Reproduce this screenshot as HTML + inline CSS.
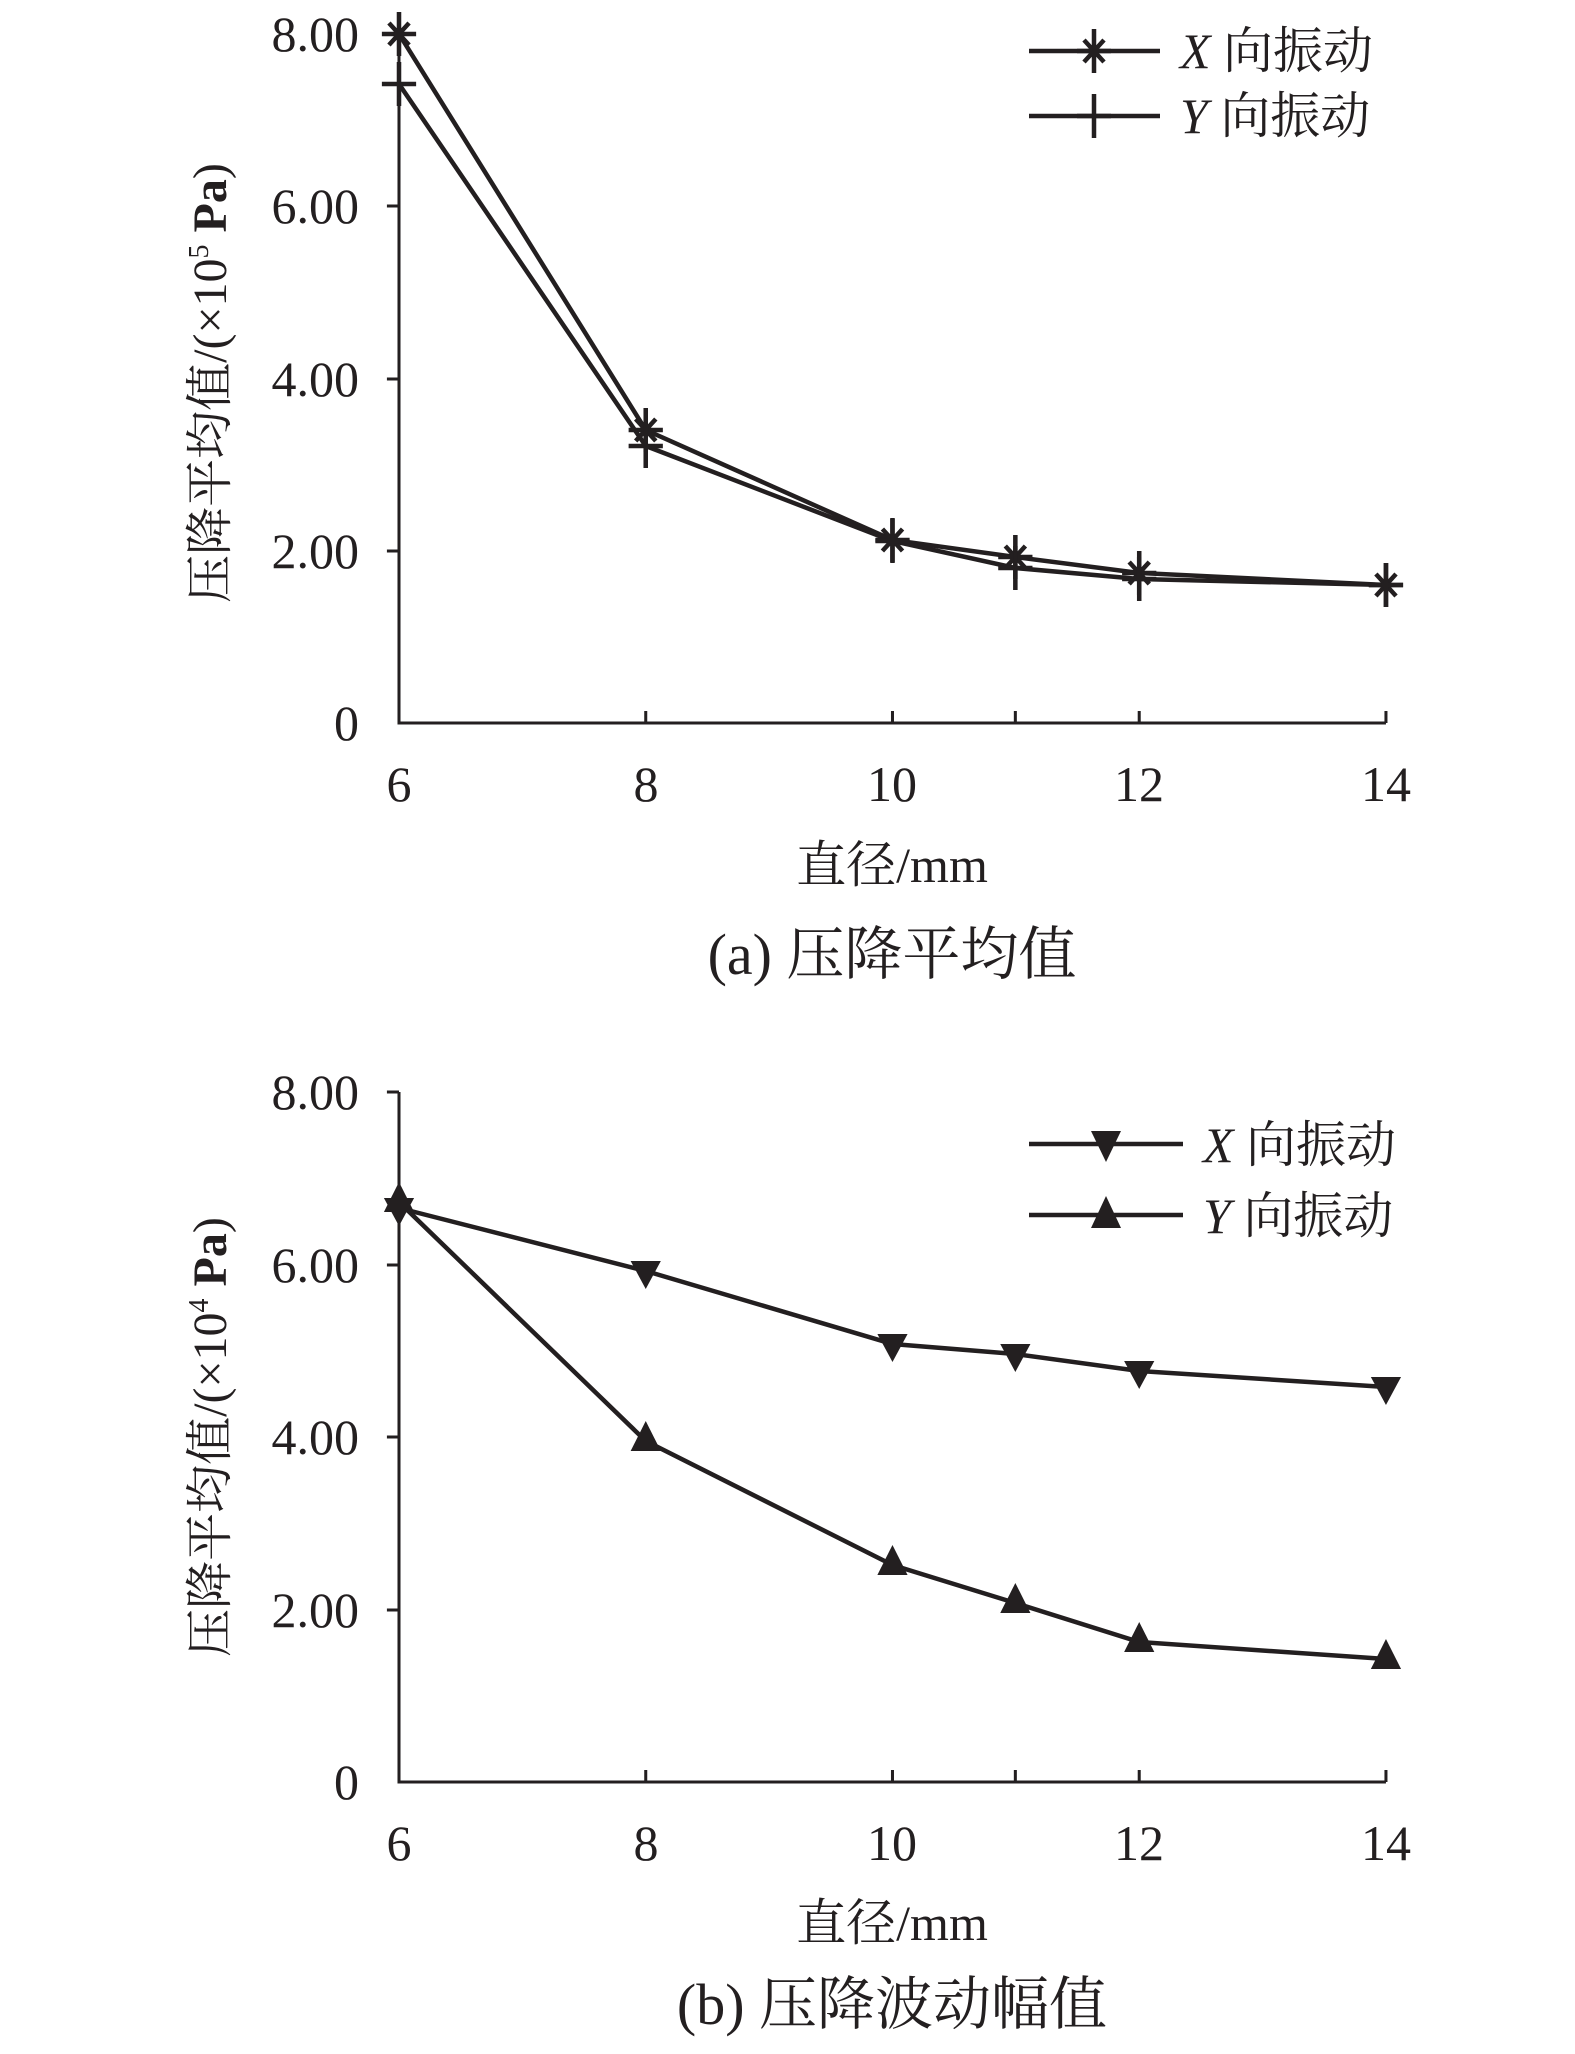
<!DOCTYPE html>
<html><head><meta charset="utf-8"><style>
html,body{margin:0;padding:0;background:#fff;}
svg{display:block;}
text{font-family:"Liberation Serif","Noto Serif CJK SC",serif;fill:#231f20;}
</style></head><body>
<svg width="1575" height="2054" viewBox="0 0 1575 2054" xmlns="http://www.w3.org/2000/svg">
<g transform="translate(399,0) scale(1.0071,1) translate(-399,0)">
<g stroke="#231f20" fill="none">
<path d="M399 34 V723 H1379" stroke-width="3"/>
<path d="M399 34 h-12 M399 206 h-12 M399 379 h-12 M399 551 h-12 M644 723 v-12 M889 723 v-12 M1011 723 v-12 M1134 723 v-12 M1379 723 v-12" stroke-width="3"/>
<polyline stroke-width="4.5" points="399,34 644,430 889,540 1011,557 1134,573 1379,585"/>
<polyline stroke-width="4.5" points="399,84 644,446 889,541 1011,568 1134,579 1379,585"/>
</g>
<g stroke="#231f20" stroke-width="4.5">
<path d="M382 34 H416 M399 12 V56 M389 23 L409 45 M389 45 L409 23"/>
<path d="M627 430 H661 M644 408 V452 M634 419 L654 441 M634 441 L654 419"/>
<path d="M872 540 H906 M889 518 V562 M879 529 L899 551 M879 551 L899 529"/>
<path d="M994 557 H1028 M1011 535 V579 M1001 546 L1021 568 M1001 568 L1021 546"/>
<path d="M1117 573 H1151 M1134 551 V595 M1124 562 L1144 584 M1124 584 L1144 562"/>
<path d="M1362 585 H1396 M1379 563 V607 M1369 574 L1389 596 M1369 596 L1389 574"/>
<path d="M382 84 H416 M399 62 V106"/>
<path d="M627 446 H661 M644 424 V468"/>
<path d="M872 541 H906 M889 519 V563"/>
<path d="M994 568 H1028 M1011 546 V590"/>
<path d="M1117 579 H1151 M1134 557 V601"/>
<path d="M1362 585 H1396 M1379 563 V607"/>
</g>
<g stroke="#231f20" fill="none">
<path d="M399 1092 V1782 H1379" stroke-width="3"/>
<path d="M399 1092 h-12 M399 1265 h-12 M399 1437 h-12 M399 1610 h-12 M644 1782 v-12 M889 1782 v-12 M1011 1782 v-12 M1134 1782 v-12 M1379 1782 v-12" stroke-width="3"/>
<polyline stroke-width="4.5" points="399,1208 644,1271 889,1344 1011,1354 1134,1371 1379,1387"/>
<polyline stroke-width="4.5" points="399,1202 644,1441 889,1565 1011,1603 1134,1642 1379,1659"/>
</g>
<g fill="#231f20">
<path d="M384 1198 h30 l-15 28z"/>
<path d="M629 1261 h30 l-15 28z"/>
<path d="M874 1334 h30 l-15 28z"/>
<path d="M996 1344 h30 l-15 28z"/>
<path d="M1119 1361 h30 l-15 28z"/>
<path d="M1364 1377 h30 l-15 28z"/>
<path d="M384 1212 h30 l-15 -30z"/>
<path d="M629 1451 h30 l-15 -30z"/>
<path d="M874 1575 h30 l-15 -30z"/>
<path d="M996 1613 h30 l-15 -30z"/>
<path d="M1119 1652 h30 l-15 -30z"/>
<path d="M1364 1669 h30 l-15 -30z"/>
</g>
</g>
<g stroke="#231f20" stroke-width="4.5">
<path d="M1029 51 H1160"/>
<path d="M1077 51 H1111 M1094 29 V73 M1084 40 L1104 62 M1084 62 L1104 40"/>
<path d="M1029 116 H1160"/>
<path d="M1077 116 H1111 M1094 94 V138"/>
<path d="M1029 1144 H1183 M1029 1215 H1183"/>
</g>
<g fill="#231f20">
<path d="M1091 1131 h30 l-15 31z"/>
<path d="M1091 1228 h30 l-15 -32z"/>
</g>
<g font-size="50">
<text x="359" y="51" text-anchor="end">8.00</text>
<text x="359" y="223" text-anchor="end">6.00</text>
<text x="359" y="396" text-anchor="end">4.00</text>
<text x="359" y="568" text-anchor="end">2.00</text>
<text x="359" y="740" text-anchor="end">0</text>
<text x="399" y="801" text-anchor="middle">6</text>
<text x="646" y="801" text-anchor="middle">8</text>
<text x="892" y="801" text-anchor="middle">10</text>
<text x="1139" y="801" text-anchor="middle">12</text>
<text x="1386" y="801" text-anchor="middle">14</text>
</g>
<text x="1180" y="68" font-size="50"><tspan font-style="italic">X</tspan> 向振动</text>
<text x="1180" y="133" font-size="50"><tspan font-style="italic">Y</tspan> 向振动</text>
<text x="892" y="882" font-size="50" text-anchor="middle">直径/mm</text>
<text x="892" y="974" font-size="58" text-anchor="middle">(a) 压降平均值</text>
<text transform="translate(226,383) rotate(-90)" font-size="48" text-anchor="middle">压降平均值/(×10<tspan font-size="28" dy="-18">5</tspan><tspan dy="18" font-weight="bold"> Pa</tspan>)</text>

<g font-size="50">
<text x="359" y="1109" text-anchor="end">8.00</text>
<text x="359" y="1282" text-anchor="end">6.00</text>
<text x="359" y="1454" text-anchor="end">4.00</text>
<text x="359" y="1627" text-anchor="end">2.00</text>
<text x="359" y="1799" text-anchor="end">0</text>
<text x="399" y="1860" text-anchor="middle">6</text>
<text x="646" y="1860" text-anchor="middle">8</text>
<text x="892" y="1860" text-anchor="middle">10</text>
<text x="1139" y="1860" text-anchor="middle">12</text>
<text x="1386" y="1860" text-anchor="middle">14</text>
</g>
<text x="1203" y="1162" font-size="50"><tspan font-style="italic">X</tspan> 向振动</text>
<text x="1203" y="1233" font-size="50"><tspan font-style="italic">Y</tspan> 向振动</text>
<text x="892" y="1940" font-size="50" text-anchor="middle">直径/mm</text>
<text x="892" y="2024" font-size="58" text-anchor="middle">(b) 压降波动幅值</text>
<text transform="translate(226,1437) rotate(-90)" font-size="48" text-anchor="middle">压降平均值/(×10<tspan font-size="28" dy="-18">4</tspan><tspan dy="18" font-weight="bold"> Pa</tspan>)</text>
</svg>
</body></html>
